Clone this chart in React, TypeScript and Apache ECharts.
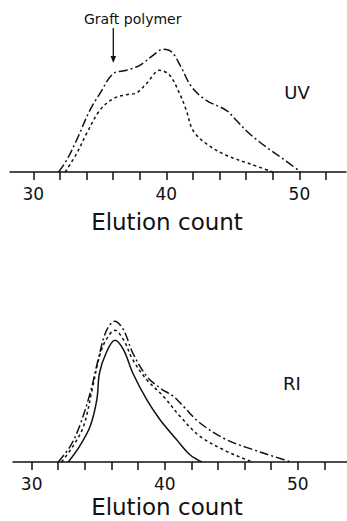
import React, { useEffect, useRef } from "react";
import * as echarts from "echarts";

// Top panel (UV) – elution count vs detector response (arbitrary units)
const uvDashDot: [number, number][] = [
  [31.9, 0], [32.5, 11.7], [33.25, 31.7], [34.25, 61.7], [35.0, 78.3], [36.0, 98.3],
  [37.0, 101.7], [38.0, 106.7], [39.0, 116.7], [39.75, 122.7], [40.4, 120], [41.1, 105],
  [41.9, 85], [43.0, 71.7], [44.5, 61.7], [45.25, 51.7], [46.25, 38.3], [47.5, 25],
  [48.75, 13.3], [50.1, 0],
];
const uvDotted: [number, number][] = [
  [32.4, 0], [33.25, 18.3], [34.0, 38.3], [35.0, 61.7], [36.0, 73.3], [37.0, 77.3],
  [37.75, 79], [38.5, 88.3], [39.5, 101.7], [40.25, 96.7], [41.0, 78.3], [41.5, 61.7],
  [42.0, 41.7], [43.0, 28.3], [44.5, 16.7], [46.25, 8.3], [48.0, 0],
];

// Bottom panel (RI)
const riSolid: [number, number][] = [
  [32.75, 0], [33.6, 15.7], [34.4, 35.7], [34.9, 62.3], [35.1, 89], [35.6, 109],
  [36.25, 121.7], [36.9, 112.3], [37.6, 89], [38.65, 62.3], [39.65, 42.3], [40.9, 22.3],
  [41.9, 7.3], [42.8, 0],
];
const riDotted: [number, number][] = [
  [32.25, 0], [33.1, 15.7], [33.9, 35.7], [34.6, 75.7], [35.1, 105.7], [35.6, 122.3],
  [36.25, 131.7], [36.9, 122.3], [37.6, 102.3], [38.65, 82.3], [39.9, 65.7], [41.15, 45.7],
  [42.65, 25.7], [44.65, 10.7], [46.15, 2.3], [46.6, 0],
];
const riDashDot: [number, number][] = [
  [32.0, 0], [32.9, 15.7], [33.6, 35.7], [34.4, 69], [35.0, 102.3], [35.6, 130.7],
  [36.25, 140.7], [36.9, 132.3], [37.6, 109], [38.65, 85.7], [39.65, 74], [40.65, 65.7],
  [41.4, 55.7], [42.65, 39], [44.65, 22.3], [46.65, 12.3], [48.15, 5.7], [49.5, 0],
];

const tickValues = [30, 32, 34, 36, 38, 40, 42, 44, 46, 48, 50, 52];
const labelValues = [30, 40, 50];
const axisTitle = "Elution count";

const INK = "#111";
const FONT = "DejaVu Sans";

const dashDot = [9, 3, 2, 3];
const dotted = [3, 3];

function xAxisFor(gridIndex: number, min: number, max: number) {
  return {
    type: "value",
    gridIndex,
    min,
    max,
    splitLine: { show: false },
    axisLine: { show: true, lineStyle: { color: INK, width: 1.5 } },
    axisTick: {
      show: true,
      inside: false,
      length: 8,
      lineStyle: { color: INK, width: 1.5 },
      customValues: tickValues,
    },
    axisLabel: {
      show: true,
      color: INK,
      fontFamily: FONT,
      fontSize: 17,
      margin: 13,
      customValues: labelValues,
    },
  };
}

function yAxisFor(gridIndex: number) {
  return {
    type: "value",
    gridIndex,
    min: 0,
    max: 150,
    show: false,
  };
}

function line(data: [number, number][], idx: number, type: any) {
  return {
    type: "line",
    xAxisIndex: idx,
    yAxisIndex: idx,
    data,
    smooth: 0.35,
    showSymbol: false,
    symbol: "none",
    lineStyle: { color: INK, width: 1.5, type },
  };
}

export default function App() {
  const ref = useRef<HTMLDivElement>(null);
  useEffect(() => {
    if (!ref.current) return;
    const chart = echarts.init(ref.current, null, { renderer: "svg" });
    chart.setOption({
      animation: false,
      backgroundColor: "#fff",
      grid: [
        { left: 10, top: 22, width: 336, height: 150 },
        { left: 13, top: 312, width: 334, height: 150 },
      ],
      xAxis: [xAxisFor(0, 28.25, 53.5), xAxisFor(1, 28.6, 53.7)],
      yAxis: [yAxisFor(0), yAxisFor(1)],
      series: [
        line(uvDashDot, 0, dashDot),
        line(uvDotted, 0, dotted),
        line(riSolid, 1, "solid"),
        line(riDotted, 1, dotted),
        line(riDashDot, 1, dashDot),
      ],
      graphic: [
        {
          type: "text",
          left: 84,
          top: 12,
          style: { text: "Graft polymer", fontSize: 14, fontFamily: FONT, fill: INK },
        },
        {
          type: "line",
          shape: { x1: 113.3, y1: 28, x2: 113.3, y2: 58 },
          style: { stroke: INK, lineWidth: 1.3 },
        },
        {
          type: "polygon",
          shape: { points: [[110.5, 56], [116.1, 56], [113.3, 63]] },
          style: { fill: INK },
        },
        {
          type: "text",
          x: 297,
          y: 92,
          style: { text: "UV", fontSize: 18, fontFamily: FONT, fill: INK, align: "center", verticalAlign: "middle" },
        },
        {
          type: "text",
          x: 292,
          y: 383,
          style: { text: "RI", fontSize: 18, fontFamily: FONT, fill: INK, align: "center", verticalAlign: "middle" },
        },
        {
          type: "text",
          x: 167,
          y: 222,
          style: { text: axisTitle, fontSize: 23, fontFamily: FONT, fill: INK, align: "center", verticalAlign: "middle" },
        },
        {
          type: "text",
          x: 167,
          y: 507,
          style: { text: axisTitle, fontSize: 23, fontFamily: FONT, fill: INK, align: "center", verticalAlign: "middle" },
        },
      ],
    });
    return () => chart.dispose();
  }, []);
  return (
    <div
      ref={ref}
      style={{ position: "absolute", left: 0, top: 0, width: 347, height: 521 }}
    />
  );
}
